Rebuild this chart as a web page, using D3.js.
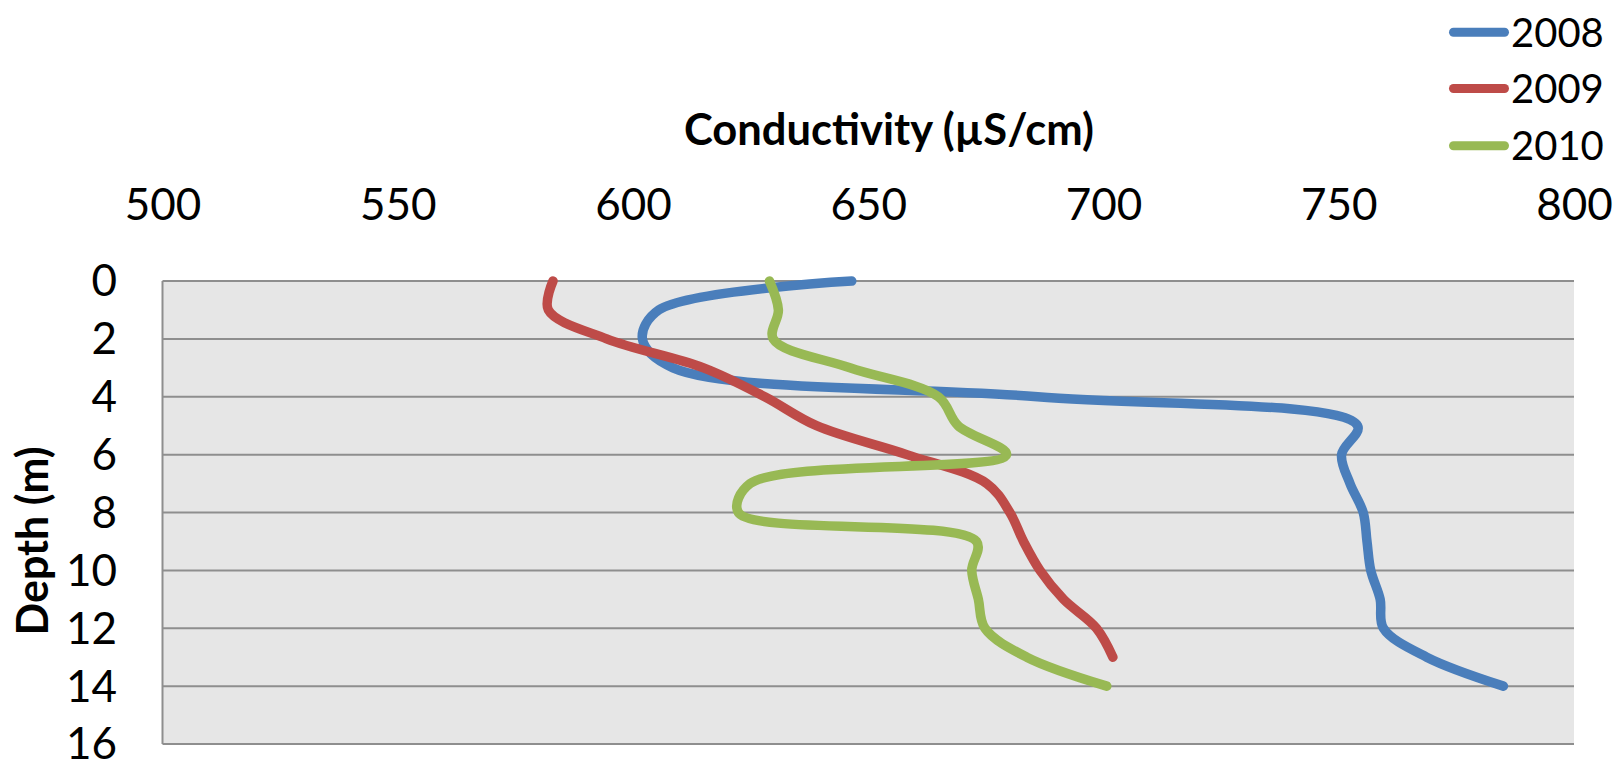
<!DOCTYPE html>
<html>
<head>
<meta charset="utf-8">
<script src="https://cdn.jsdelivr.net/npm/d3@7"></script>
<style>
  html, body { margin: 0; padding: 0; background: #ffffff; }
  svg { display: block; }
  text { font-family: Lato, "Open Sans", sans-serif; fill: #000; }
</style>
</head>
<body>
<svg id="chart" width="1617" height="760"></svg>
<script>
// ---- data ----
const depths2008 = [0,1,2,3,4,5,6,7,8,9,10,11,12,13,14];
const cond2008   = [646.5,605.5,602,608.5,686,754,750.6,752.4,755.2,756,756.8,758.8,759.5,768.7,785];
const depths2009 = [0,1,2,3,4,5,6,7,8,9,10,11,12,13];
const cond2009   = [583,582,594.4,615,628,639,658.2,675.2,680.1,683,686.5,691.5,698.5,702];
const depths2010 = [0,1,2,3,4,5,6,7,8,9,10,11,12,13,14];
const cond2010   = [629,630.9,629.8,646.1,664.9,669.1,679.4,624.9,622.4,673,672,673.4,674.8,683.7,700.7];
const seriesNames = ["2008","2009","2010"];
const seriesColors = ["#4A7EBB","#BE4B48","#98B954"];
const xTicks = [500,550,600,650,700,750,800];
const yTicks = [0,2,4,6,8,10,12,14,16];
const xTitle = "Conductivity (µS/cm)";
const yTitle = "Depth (m)";

const series = [
  {name: seriesNames[0], color: seriesColors[0], pts: depths2008.map((d,i)=>({d, c: cond2008[i]}))},
  {name: seriesNames[1], color: seriesColors[1], pts: depths2009.map((d,i)=>({d, c: cond2009[i]}))},
  {name: seriesNames[2], color: seriesColors[2], pts: depths2010.map((d,i)=>({d, c: cond2010[i]}))}
];

// ---- layout ----
const plot = {left: 162.5, right: 1574, top: 281, bottom: 744};
const svg = d3.select("#chart");
const x = d3.scaleLinear().domain([500,800]).range([plot.left, plot.right]);
const y = d3.scaleLinear().domain([0,16]).range([plot.top, plot.bottom]);

// plot background
svg.append("rect")
  .attr("x", plot.left).attr("y", plot.top)
  .attr("width", plot.right - plot.left).attr("height", plot.bottom - plot.top)
  .attr("fill", "#E6E6E6");

// gridlines
svg.append("g").selectAll("line").data(yTicks).join("line")
  .attr("x1", plot.left).attr("x2", plot.right)
  .attr("y1", d => y(d)).attr("y2", d => y(d))
  .attr("stroke", "#8E8E8E").attr("stroke-width", 2);

// left axis line
svg.append("line")
  .attr("x1", plot.left).attr("x2", plot.left)
  .attr("y1", plot.top).attr("y2", plot.bottom)
  .attr("stroke", "#8E8E8E").attr("stroke-width", 2);

// x axis (top)
const xAxis = svg.append("g").attr("transform", "translate(0,220)")
  .call(d3.axisTop(x).tickValues(xTicks).tickSize(0).tickPadding(0).tickFormat(d3.format("d")));
xAxis.select(".domain").remove();
xAxis.selectAll("text").attr("font-size", 44).attr("font-family", "Lato").attr("fill", "#000");

// y axis (left)
const yAxis = svg.append("g").attr("transform", "translate(117,0)")
  .call(d3.axisLeft(y).tickValues(yTicks).tickSize(0).tickPadding(0).tickFormat(d3.format("d")));
yAxis.select(".domain").remove();
yAxis.selectAll("text").attr("font-size", 44).attr("font-family", "Lato").attr("fill", "#000").attr("dy", "0.34em");

// titles
svg.append("text")
  .attr("x", 889).attr("y", 145)
  .attr("text-anchor", "middle")
  .attr("font-size", 43.5).attr("font-weight", "bold")
  .text(xTitle);

svg.append("text")
  .attr("transform", "translate(48,541) rotate(-90)")
  .attr("text-anchor", "middle")
  .attr("font-size", 43).attr("font-weight", "bold")
  .text(yTitle);

// lines
const line = d3.line()
  .x(p => x(p.c)).y(p => y(p.d))
  .curve(d3.curveCatmullRom.alpha(0.5));

svg.append("g").selectAll("path").data(series).join("path")
  .attr("d", s => line(s.pts))
  .attr("fill", "none")
  .attr("stroke", s => s.color)
  .attr("stroke-width", 9.5)
  .attr("stroke-linecap", "round")
  .attr("stroke-linejoin", "round");

// legend
const legendY = [32.3, 88.5, 145.7];
const lg = svg.append("g").selectAll("g").data(series).join("g")
  .attr("transform", (s,i) => `translate(0,${legendY[i]})`);
lg.append("line")
  .attr("x1", 1453.5).attr("x2", 1504.5).attr("y1", 0).attr("y2", 0)
  .attr("stroke", s => s.color).attr("stroke-width", 9).attr("stroke-linecap", "round");
lg.append("text")
  .attr("x", 1511).attr("y", 14.2)
  .attr("font-size", 40)
  .text(s => s.name);
</script>
</body>
</html>
